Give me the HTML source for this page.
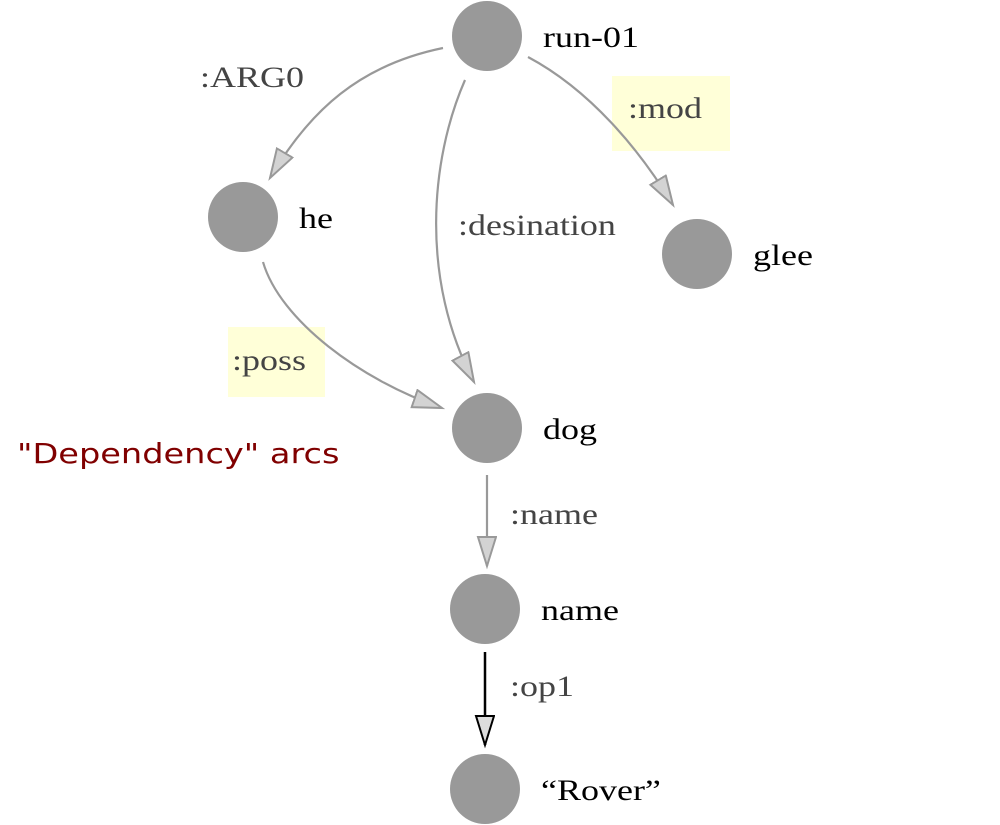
<!DOCTYPE html>
<html><head><meta charset="utf-8"><style>
html,body{margin:0;padding:0;background:#fff;width:1000px;height:825px;overflow:hidden}
svg{display:block}
.lbl{font-family:"Liberation Serif",serif;font-size:30px;fill:#444}
.nl{font-family:"Liberation Serif",serif;font-size:30px;fill:#000}
</style></head><body>
<svg id="g" width="1000" height="825" viewBox="0 0 1000 825">
<defs>
<marker id="ah" markerUnits="userSpaceOnUse" markerWidth="34" markerHeight="24" refX="30" refY="10" orient="auto">
<path d="M1,1 L30,10 L1,19 Z" fill="#d3d3d3" stroke="#999" stroke-width="2"/>
</marker>
<marker id="ahb" markerUnits="userSpaceOnUse" markerWidth="34" markerHeight="24" refX="30" refY="10" orient="auto">
<path d="M1,1 L30,10 L1,19 Z" fill="#ddd" stroke="#000" stroke-width="2"/>
</marker>
</defs>
<rect x="612" y="76" width="118" height="75" fill="#ffffd8"/>
<rect x="228" y="327" width="97" height="70" fill="#ffffd8"/>
<g id="edges"></g>
<g id="nodes"></g>
<text transform="translate(17,463) scale(1.2,1)" font-family="'DejaVu Sans',sans-serif" font-size="28" fill="#800000">"Dependency" arcs</text>
</svg>
<script>
const nodeNames = ["run-01","he","glee","dog","name","“Rover”"];
const nodeX = [487,243,697,487,485,485];
const nodeY = [36,217,254,428,609,789];
const edgeLabels = [":ARG0",":desination",":mod",":poss",":name",":op1"];
const edgePaths = [
 "M443,48 C360,65 310,110 270,178",
 "M465,80 C430,160 420,280 474,382",
 "M528,57 C590,90 640,150 673,205",
 "M263,262 C280,320 360,380 442,408",
 "M487,475 L487,566",
 "M485,652 L485,745"
];
const labelPos = [[200,87],[458,235],[628,118],[232,370],[510,524],[510,696]];
const black = [false,false,false,false,false,true];
const ns="http://www.w3.org/2000/svg";
const eg=document.getElementById('edges'), ng=document.getElementById('nodes');
edgePaths.forEach((d,i)=>{
 const p=document.createElementNS(ns,'path');
 p.setAttribute('d',d);p.setAttribute('fill','none');
 p.setAttribute('stroke',black[i]?'#000':'#999');p.setAttribute('stroke-width',black[i]?2.5:2.2);
 p.setAttribute('marker-end',black[i]?'url(#ahb)':'url(#ah)');
 
 
 eg.appendChild(p);
 const t=document.createElementNS(ns,'text');
 t.setAttribute('transform','translate('+labelPos[i][0]+','+labelPos[i][1]+') scale(1.2,1)');
 t.setAttribute('class','lbl');
 if(i==2||i==3) t.setAttribute('fill','#777755');
 t.textContent=edgeLabels[i];
 
 
 eg.appendChild(t);
});
nodeNames.forEach((n,i)=>{
 const c=document.createElementNS(ns,'circle');
 c.setAttribute('cx',nodeX[i]);c.setAttribute('cy',nodeY[i]);c.setAttribute('r',35);c.setAttribute('fill','#999');
 
 
 ng.appendChild(c);
 const t=document.createElementNS(ns,'text');
 t.setAttribute('transform','translate('+(nodeX[i]+56)+','+(nodeY[i]+11)+') scale(1.2,1)');
 t.setAttribute('class','nl');
 t.textContent=n;
 
 
 ng.appendChild(t);
});
</script>
</body></html>
